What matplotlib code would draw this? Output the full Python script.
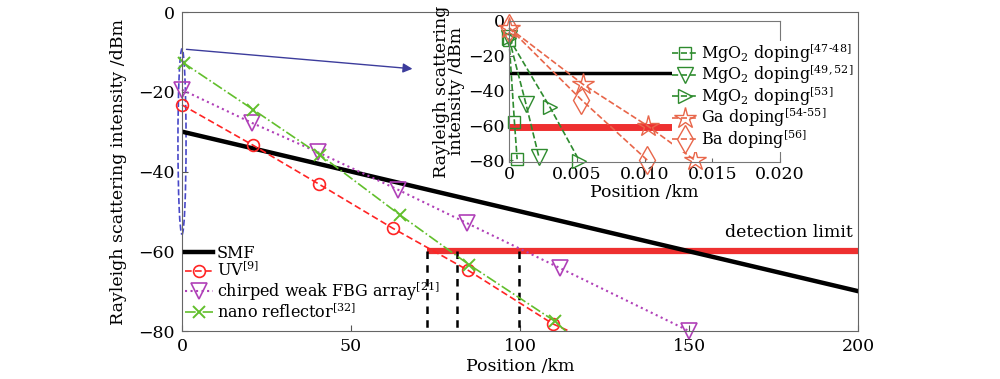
import matplotlib
matplotlib.use("Agg")
import matplotlib.pyplot as plt
from matplotlib.patches import Ellipse

# ---- main panel: position (km) vs Rayleigh scattering intensity (dBm) ----
smf_x = [0, 200]
smf_y = [-30, -70]

uv_x = [0, 21.0, 40.4, 62.3, 84.7, 109.7, 114.5]
uv_y = [-23.3, -33.4, -43.1, -54.2, -64.8, -78.2, -80]

fbg_x = [0, 20.7, 40.3, 64.0, 84.2, 111.8, 150]
fbg_y = [-19.5, -27.8, -35.2, -44.6, -52.9, -64.2, -80]

nano_x = [0.5, 21.1, 40.8, 64.5, 85.0, 110.4, 113.5]
nano_y = [-12.8, -24.5, -35.8, -50.9, -63.4, -77.6, -80]

det_x = [72.4, 200]
det_level = -60
cut_x = [72.4, 81.3, 99.6]   # where each curve meets the detection limit

# zoom marker (ellipse around x=0) and arrow pointing to the inset
ell_center = (0, -32.5)
ell_w, ell_h = 2.4, 46.5
arrow_from = (0.5, -9.3)
arrow_to = (69, -14.3)

# ---- inset: short-range doped fibres ----
sq_x = [0, 0.0004, 0.0006]
sq_y = [-11, -58, -79.5]
vd_x = [0, 0.00125, 0.0022]
vd_y = [-10, -47.7, -78]
rt_x = [0, 0.0030, 0.0052]
rt_y = [-10, -49.3, -80.5]
ga_x = [0, 0.00547, 0.01026, 0.0137]
ga_y = [-4, -36.5, -60.5, -80]
ba_x = [0, 0.00535, 0.0102]
ba_y = [-4, -45.4, -80]
inset_smf = -30
inset_det = -61

RED = "#ff2424"
PURPLE = "#b040b8"
GREEN = "#62bf2c"
DGREEN = "#2e8b2e"
ORANGE = "#e8664a"
DETRED = "#ee3030"

plt.rcParams["font.family"] = ["DejaVu Serif"]
plt.rcParams["mathtext.fontset"] = "dejavuserif"
plt.rcParams["font.size"] = 12.5

fig = plt.figure(figsize=(10, 3.79), dpi=100)
ax = fig.add_axes([0.182, 0.1266, 0.676, 0.8417])

# inset curves squeezed onto x=0 in the main panel
for xs, ys in [(sq_x, sq_y), (vd_x, vd_y), (rt_x, rt_y)]:
    ax.plot(xs, ys, "-", color=GREEN, lw=0.8)
for xs, ys in [(ga_x, ga_y), (ba_x, ba_y)]:
    ax.plot(xs, ys, "-", color=ORANGE, lw=0.9)

ax.plot(det_x, [det_level] * 2, "-", color=DETRED, lw=4.5, solid_capstyle="butt")
for cx in cut_x:
    ax.plot([cx, cx], [det_level, -80], "--", color="black", lw=1.8, dashes=(3, 2.5))

l_smf, = ax.plot(smf_x, smf_y, "-", color="black", lw=3.2, label="SMF")
l_uv, = ax.plot(uv_x, uv_y, "--", color=RED, lw=1.2, marker="o", ms=8.5,
                mfc="none", mec=RED, mew=1.2, markevery=list(range(6)),
                dashes=(4, 2), clip_on=False, label="UV$^{[9]}$")
l_fbg, = ax.plot(fbg_x, fbg_y, ":", color=PURPLE, lw=1.5, marker="v", ms=11,
                 mfc="none", mec=PURPLE, mew=1.2, clip_on=False,
                 label="chirped weak FBG array$^{[21]}$")
l_nano, = ax.plot(nano_x, nano_y, "-.", color=GREEN, lw=1.2, marker="x", ms=9,
                  mew=1.4, markevery=list(range(6)), clip_on=False,
                  label="nano reflector$^{[32]}$")

ax.add_patch(Ellipse(ell_center, ell_w, ell_h, fill=False, ec="#4848c8",
                     ls="--", lw=1.2, clip_on=False))
ax.annotate("", xy=arrow_to, xytext=arrow_from,
            arrowprops=dict(arrowstyle="-|>", color="#3c3c9c", lw=1.0,
                            mutation_scale=14))

ax.text(198.5, -55.3, "detection limit", ha="right", va="center")

ax.set_xlim(0, 200)
ax.set_ylim(-80, 0)
ax.set_xticks([0, 50, 100, 150, 200])
ax.set_yticks([-80, -60, -40, -20, 0])
ax.tick_params(direction="in", length=4, color="#555555", pad=5)
for s in ax.spines.values():
    s.set_color("#666666")
ax.set_xlabel("Position /km", labelpad=2)
ax.set_ylabel("Rayleigh scattering intensity /dBm", labelpad=8)

ax.legend(handles=[l_smf, l_uv, l_fbg, l_nano], loc="upper left",
          bbox_to_anchor=(0.004, 0.27), frameon=False, borderpad=0,
          borderaxespad=0, labelspacing=-0.05, handlelength=1.8,
          handletextpad=0.2, fontsize=11.5)

# ---- inset ----
ins = fig.add_axes([0.509, 0.573, 0.271, 0.372])
ins.set_zorder(5)
ins.axhline(inset_smf, color="black", lw=2.5)
ins.axhline(inset_det, color=DETRED, lw=5)
h1, = ins.plot(sq_x, sq_y, "--", color=DGREEN, lw=1.2, marker="s", ms=9,
               mfc="none", mec=DGREEN, clip_on=False,
               label="MgO$_2$ doping$^{[47\u201048]}$")
h2, = ins.plot(vd_x, vd_y, "--", color=DGREEN, lw=1.2, marker="v", ms=11,
               mfc="none", mec=DGREEN, clip_on=False,
               label="MgO$_2$ doping$^{[49,52]}$")
h3, = ins.plot(rt_x, rt_y, "--", color=DGREEN, lw=1.2, marker=">", ms=10,
               mfc="none", mec=DGREEN, clip_on=False,
               label="MgO$_2$ doping$^{[53]}$")
h4, = ins.plot(ga_x, ga_y, "--", color=ORANGE, lw=1.2, marker="*", ms=16,
               mfc="none", mec=ORANGE, mew=1.0, clip_on=False,
               label="Ga doping$^{[54\u201055]}$")
h5, = ins.plot(ba_x, ba_y, "--", color=ORANGE, lw=1.2, marker="d", ms=14,
               mfc="none", mec=ORANGE, mew=1.0, clip_on=False,
               label="Ba doping$^{[56]}$")
ins.set_xlim(0, 0.02)
ins.set_ylim(-81, 0)
ins.set_xticks([0, 0.005, 0.01, 0.015, 0.02])
ins.set_xticklabels(["0", "0.005", "0.010", "0.015", "0.020"])
ins.set_yticks([-80, -60, -40, -20, 0])
ins.tick_params(direction="in", length=3, color="#666666", pad=3)
for s in ins.spines.values():
    s.set_color("#777777")
ins.set_xlabel("Position /km", labelpad=1)
ins.set_ylabel("Rayleigh scattering\nintensity /dBm", labelpad=2,
               linespacing=0.85)
leg = ins.legend(handles=[h1, h2, h3, h4, h5], loc="upper left",
                 bbox_to_anchor=(0.60, 0.86), frameon=True, facecolor="white",
                 edgecolor="none", framealpha=1, borderpad=0.05,
                 borderaxespad=0, labelspacing=-0.12, handlelength=1.6,
                 handletextpad=0.2, fontsize=11.5)
leg.set_zorder(10)

fig.savefig("out.png", dpi=100)
